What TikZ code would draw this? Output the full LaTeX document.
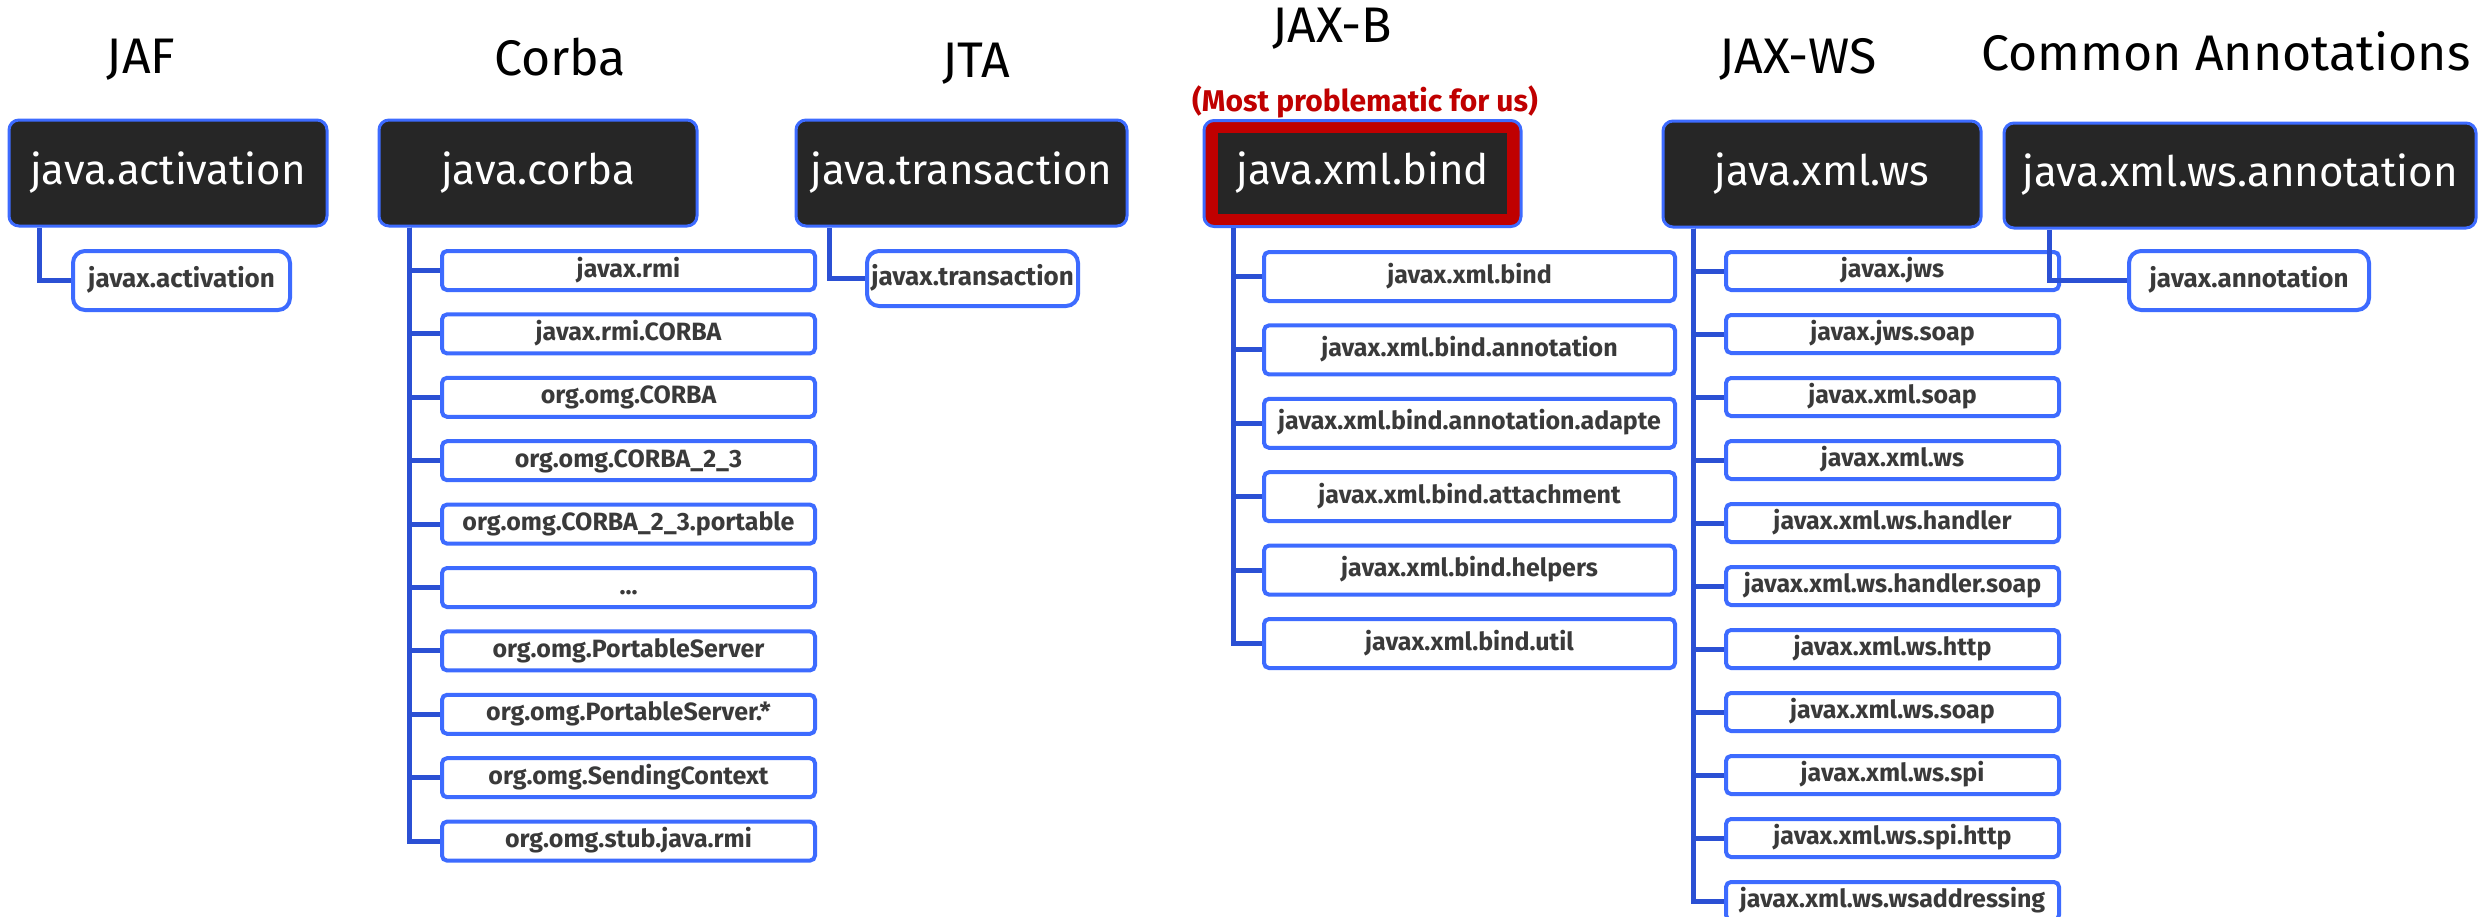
\documentclass[tikz,border=0pt]{standalone}
\usepackage{fontspec}
\setmainfont{Fira Sans}
\usetikzlibrary{calc}
\definecolor{edge}{HTML}{3D6BFF}
\definecolor{wirecol}{HTML}{2B50D4}
\definecolor{pkgfill}{HTML}{262626}
\definecolor{warn}{HTML}{C00000}
\definecolor{subtext}{HTML}{3A3A3A}
\newcommand\etcdots{...}

\begin{document}
\begin{tikzpicture}[x=1pt,y=-1pt,
  pkg/.style={draw=edge,line width=3pt,fill=pkgfill,rounded corners=10pt,minimum height=106pt,inner sep=0pt,
    text=white,text height=30pt,text depth=8pt,font=\fontsize{42}{48}\selectfont},
  sub/.style={draw=edge,line width=4pt,fill=white,rounded corners=5pt,minimum height=39pt,inner sep=0pt,
    text=subtext,text height=18pt,text depth=5pt,font=\fontsize{25}{30}\selectfont\bfseries},
  leaf/.style={sub,rounded corners=12pt,minimum height=59pt,font=\fontsize{26}{30}\selectfont\bfseries},
  title/.style={anchor=base,font=\fontsize{50}{56}\selectfont},
  wire/.style={draw=wirecol,line width=5pt}]
\path[use as bounding box,fill=white] (0,0) rectangle (2481,916);

\node[title] (t-jaf) at (141,73) {JAF};
\node[title] (t-corba) at (560,75) {Corba};
\node[title] (t-jta) at (976,77) {JTA};
\node[title] (t-jaxb) at (1332,42) {JAX-B};
\node[title] (t-jaxws) at (1798,73) {JAX-WS};
\node[title] (t-common) at (2226,70) {Common Annotations};
\node[anchor=base,text=warn,font=\fontsize{30}{34}\selectfont\bfseries] (note) at (1365,111) {(Most problematic for us)};

\node[pkg,minimum width=318pt] (act) at (168,173) {java.activation};
\node[pkg,minimum width=318pt] (corba) at (538,173) {java.corba};
\node[pkg,minimum width=331pt] (trans) at (961.5,173) {java.transaction};
\node[pkg,minimum width=317pt,fill=warn,
  path picture={\fill[pkgfill,sharp corners] ([xshift=14pt,yshift=-12pt]path picture bounding box.north west)
    rectangle ([xshift=-14pt,yshift=13pt]path picture bounding box.south east);}] (bind) at (1362.5,173.5) {java.xml.bind};
\node[pkg,minimum width=318pt] (ws) at (1822,174) {java.xml.ws};
\node[pkg,minimum width=472pt,minimum height=105pt] (anno) at (2240,175.5) {java.xml.ws.annotation};

\node[leaf,minimum width=217pt] (act-1) at (181.5,280.5) {javax.activation};
\node[leaf,minimum width=211pt,minimum height=55pt] (trans-1) at (972.5,278.5) {javax.transaction};
\node[leaf,minimum width=240pt] (anno-1) at (2249,280.5) {javax.annotation};

\foreach \name [count=\i from 0] in {javax.rmi,javax.rmi.CORBA,org.omg.CORBA,org.omg.CORBA\_2\_3,
    org.omg.CORBA\_2\_3.portable,\etcdots,org.omg.PortableServer,org.omg.PortableServer.*,
    org.omg.SendingContext,org.omg.stub.java.rmi}
  \node[sub,minimum width=373pt] (corba-\i) at (628.5,270.5+63.4*\i) {\name};

\foreach \name [count=\i from 0] in {javax.xml.bind,javax.xml.bind.annotation,javax.xml.bind.annotation.adapte,
    javax.xml.bind.attachment,javax.xml.bind.helpers,javax.xml.bind.util}
  \node[sub,minimum width=411pt,minimum height=49pt] (bind-\i) at (1469.5,276.5+73.4*\i) {\name};

\foreach \name [count=\i from 0] in {javax.jws,javax.jws.soap,javax.xml.soap,javax.xml.ws,javax.xml.ws.handler,
    javax.xml.ws.handler.soap,javax.xml.ws.http,javax.xml.ws.soap,javax.xml.ws.spi,javax.xml.ws.spi.http,
    javax.xml.ws.wsaddressing}
  \node[sub,minimum width=333pt,minimum height=38pt] (ws-\i) at (1892.5,271+63*\i) {\name};

\draw[wire] ([xshift=32pt]act.south west) |- (act-1.west);
\draw[wire] ([xshift=35pt]trans.south west) |- (trans-1.west);
\draw[wire] ([xshift=47pt]anno.south west) |- (anno-1.west);
\foreach \i in {0,...,9}
  \draw[wire] ([xshift=32pt]corba.south west) |- (corba-\i.west);
\foreach \i in {0,...,5}
  \draw[wire] ([xshift=31pt]bind.south west) |- (bind-\i.west);
\foreach \i in {0,...,10}
  \draw[wire] ([xshift=32pt]ws.south west) |- (ws-\i.west);
\end{tikzpicture}
\end{document}
